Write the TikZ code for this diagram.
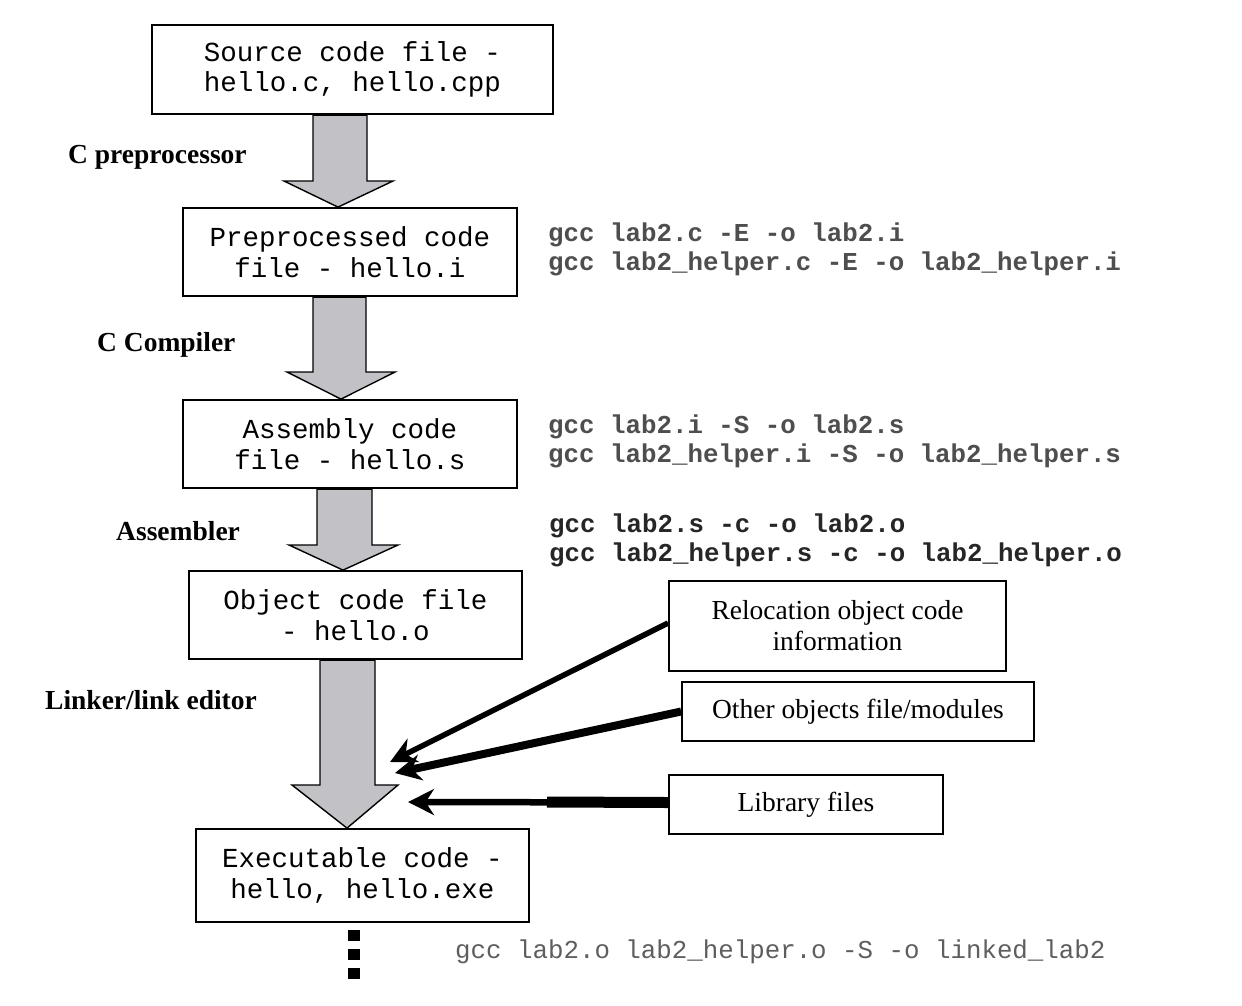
\documentclass[tikz,border=0pt]{standalone}
\usepackage{fontspec}
\setmainfont{Liberation Serif}
\setmonofont{Liberation Mono}
\usetikzlibrary{arrows.meta}
\definecolor{cmdgray}{HTML}{4E4E4E}
\definecolor{cmdlight}{HTML}{5E5E5E}
\definecolor{arrowfill}{HTML}{C2C2C6}
\tikzset{
  filebox/.style={draw=black, line width=1.8pt, inner sep=0pt, align=center,
    font=\fontsize{27.5}{30.5}\selectfont\ttfamily},
  infobox/.style={draw=black, line width=1.8pt, inner sep=0pt, align=center,
    font=\fontsize{27.5}{31}\selectfont\rmfamily},
  steplabel/.style={anchor=west, inner sep=0pt,
    font=\fontsize{27.5}{30}\selectfont\rmfamily\bfseries},
  cmdtext/.style={anchor=west, inner sep=0pt, align=left, text=cmdgray,
    font=\fontsize{25.8}{29}\selectfont\ttfamily\bfseries},
  blockarrow/.style={fill=arrowfill, draw=black, line width=1.4pt, line join=miter},
  feed/.style={-{Stealth[length=26pt,width=26pt]}, draw=black}
}
\begin{document}
\begin{tikzpicture}[x=1pt,y=-1pt]
\useasboundingbox (0,0) rectangle (1242,1005);
\fill[white] (0,0) rectangle (1242,1005);

% main chain boxes
\node[filebox, minimum width=401pt, minimum height=89pt] (src) at (352.5,69.5) {Source code file -\\hello.c, hello.cpp};
\node[filebox, minimum width=334pt, minimum height=88pt] (pre) at (350,252) {Preprocessed code\\file - hello.i};
\node[filebox, minimum width=334pt, minimum height=88pt] (asm) at (350,444) {Assembly code\\file - hello.s};
\node[filebox, minimum width=333pt, minimum height=88pt] (obj) at (355.5,615) {Object code file\\- hello.o};
\node[filebox, minimum width=333pt, minimum height=93pt] (exe) at (362.5,875.5) {Executable code -\\hello, hello.exe};

% side boxes
\node[infobox, minimum width=337pt, minimum height=90pt] (reloc) at (837.5,626) {Relocation object code\\information};
\node[infobox, minimum width=352pt, minimum height=59pt] (other) at (858,711.5) {Other objects file/modules};
\node[infobox, minimum width=274pt, minimum height=59pt] (lib) at (806,804.5) {Library files};

% block arrows
\draw[blockarrow] (313,0 |- src.south) -- (313,181) -- (284,181) -- (338,0 |- pre.north) -- (393,181) -- (367,181) -- (367,0 |- src.south);
\draw[line width=3pt] (313,0 |- src.south) -- (367,0 |- src.south);
\draw[blockarrow] (313,0 |- pre.south) -- (313,372) -- (287,372) -- (341,0 |- asm.north) -- (395,372) -- (366,372) -- (366,0 |- pre.south);
\draw[line width=3pt] (313,0 |- pre.south) -- (366,0 |- pre.south);
\draw[blockarrow] (317,0 |- asm.south) -- (317,545) -- (289,545) -- (343,0 |- obj.north) -- (398,545) -- (372,545) -- (372,0 |- asm.south);
\draw[line width=3pt] (317,0 |- asm.south) -- (372,0 |- asm.south);
\draw[blockarrow] (320,0 |- obj.south) -- (320,785) -- (292,785) -- (347,0 |- exe.north) -- (398,785) -- (375,785) -- (375,0 |- obj.south);
\draw[line width=3pt] (320,0 |- obj.south) -- (375,0 |- obj.south);

% step labels
\node[steplabel] (lpre) at (68,157) {C preprocessor};
\node[steplabel] (lcomp) at (97,345) {C Compiler};
\node[steplabel] (lasm) at (116,531) {Assembler};
\node[steplabel] (llink) at (45,700) {Linker/link editor};

% gcc commands
\node[cmdtext] (cmd1) at (548,249) {gcc lab2.c -E -o lab2.i\\gcc lab2\_helper.c -E -o lab2\_helper.i};
\node[cmdtext] (cmd2) at (548,441) {gcc lab2.i -S -o lab2.s\\gcc lab2\_helper.i -S -o lab2\_helper.s};
\node[cmdtext, text=black!85] (cmd3) at (549,540) {gcc lab2.s -c -o lab2.o\\gcc lab2\_helper.s -c -o lab2\_helper.o};
\node[cmdtext, text=cmdlight, font=\fontsize{25.8}{29}\selectfont\ttfamily] (cmd4) at (455,952) {gcc lab2.o lab2\_helper.o -S -o linked\_lab2};

% feeding arrows into the linker arrow
\coordinate (t1) at (390,762);
\coordinate (t2) at (395,773);
\coordinate (t3) at (408,802);
\draw[feed, line width=5.5pt] ([yshift=3pt]reloc.west) -- (t1);
\draw[feed, line width=8pt] (other.west) -- (t2);
\draw[feed, line width=6.5pt] ([yshift=2pt]lib.west) -- (t3);
\draw[line width=11pt] ([yshift=2pt]lib.west) -- (547,802);

% continuation dots
\draw[line width=12pt, dash pattern=on 11pt off 8pt] (354,0 |- exe.south) ++(0,7) -- ++(0,52);
\end{tikzpicture}
\end{document}
